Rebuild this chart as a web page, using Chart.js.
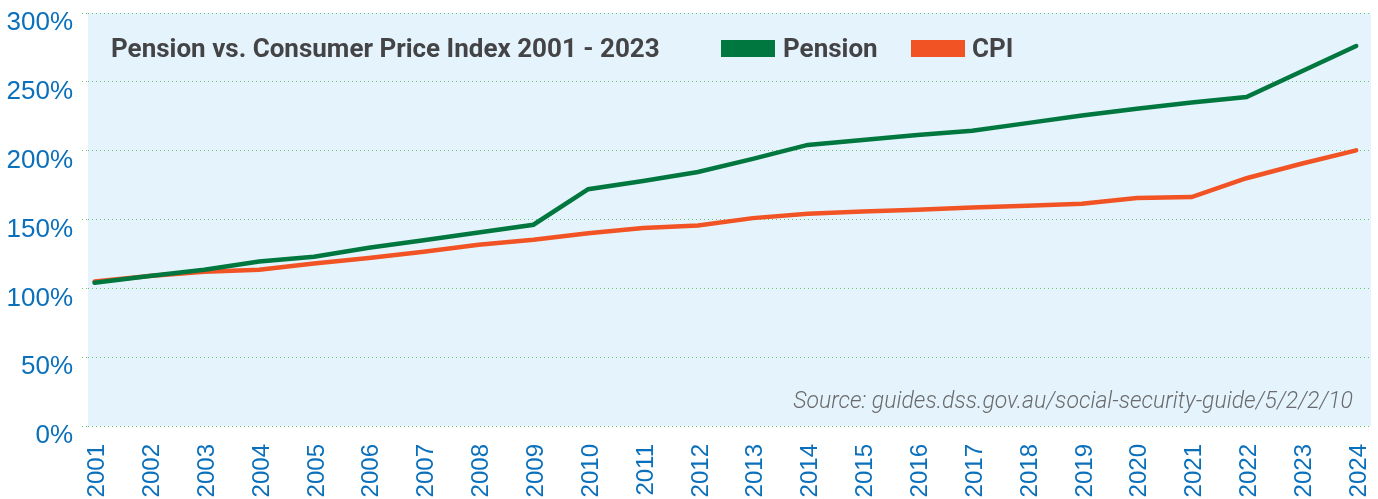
<!DOCTYPE html>
<html>
<head>
<meta charset="utf-8">
<script src="https://cdn.jsdelivr.net/npm/chart.js@4.4.0/dist/chart.umd.min.js"></script>
<style>
  html, body { margin: 0; padding: 0; background: #fff; }
  #wrap { width: 1378px; height: 499px; }
</style>
</head>
<body>
<div id="wrap"><canvas id="pensionChart" width="1378" height="499"></canvas></div>
<script>
// years on the x axis
var years = [2001, 2002, 2003, 2004, 2005, 2006, 2007, 2008, 2009, 2010, 2011, 2012,
             2013, 2014, 2015, 2016, 2017, 2018, 2019, 2020, 2021, 2022, 2023, 2024];

// index values in %
var pension = [104, 109, 113.5, 119.5, 123, 129.5, 135, 140.5, 146.2, 172, 178, 184.5,
               194, 204.2, 207.8, 211.3, 214.5, 220, 225.5, 230.5, 235, 239, 257.5, 276];
var cpi = [105, 109, 112, 113.5, 118, 122, 126.5, 131.6, 135.3, 140, 143.8, 145.7,
           151, 154.2, 155.9, 157.1, 158.7, 160, 161.4, 165.6, 166.3, 180, 190.5, 200.2];

var yTicks = [0, 50, 100, 150, 200, 250, 300];

var titleText = 'Pension vs. Consumer Price Index 2001 - 2023';
var sourceText = 'Source: guides.dss.gov.au/social-security-guide/5/2/2/10';

var GREEN = '#00773e';
var ORANGE = '#f15324';
var BLUE = '#0b70bb';

function toPoints(vals) {
  return years.map(function (y, i) { return { x: y, y: vals[i] }; });
}

// background, title, legend and source note
var overlay = {
  id: 'overlay',
  beforeDraw: function (chart) {
    var a = chart.chartArea, ctx = chart.ctx;
    ctx.save();
    ctx.fillStyle = '#e5f4fc';
    ctx.fillRect(a.left, a.top, a.right - a.left, a.bottom - a.top);
    ctx.restore();
  },
  afterDraw: function (chart) {
    var ctx = chart.ctx;
    ctx.save();
    ctx.textBaseline = 'alphabetic';
    ctx.fillStyle = '#444447';
    ctx.font = 'bold 26px Roboto, sans-serif';
    ctx.fillText(titleText, 111, 57);

    ctx.fillStyle = GREEN;
    ctx.fillRect(721, 40, 54, 17);
    ctx.fillStyle = '#444447';
    ctx.fillText('Pension', 783, 57);

    ctx.fillStyle = ORANGE;
    ctx.fillRect(911, 40, 54, 17);
    ctx.fillStyle = '#444447';
    ctx.fillText('CPI', 972, 57);

    ctx.font = 'italic 300 23px Roboto, "Liberation Sans", sans-serif';
    ctx.fillStyle = '#6a6b6e';
    ctx.textAlign = 'right';
    ctx.fillText(sourceText, 1353, 408);
    ctx.restore();
  }
};

var ctx = document.getElementById('pensionChart');
var chart = new Chart(ctx, {
  type: 'line',
  data: {
    datasets: [
      { label: 'Pension', data: toPoints(pension), borderColor: GREEN, borderWidth: 4.5,
        pointRadius: 0, tension: 0, borderCapStyle: 'round', borderJoinStyle: 'miter' },
      { label: 'CPI', data: toPoints(cpi), borderColor: ORANGE, borderWidth: 4.5,
        pointRadius: 0, tension: 0, borderCapStyle: 'round', borderJoinStyle: 'miter' }
    ]
  },
  options: {
    responsive: false,
    animation: false,
    devicePixelRatio: 1,
    layout: { padding: { top: 13, right: 7, left: 0, bottom: 0 } },
    plugins: {
      legend: { display: false },
      tooltip: { enabled: false }
    },
    scales: {
      x: {
        type: 'linear',
        min: 2001 - 0.12,
        max: 2024 + 0.27,
        afterBuildTicks: function (scale) {
          scale.ticks = years.map(function (y) { return { value: y }; });
        },
        afterFit: function (scale) {
          scale.height = 73;
          scale.paddingLeft = 0;
          scale.paddingRight = 0;
        },
        grid: { display: false },
        border: { display: false },
        ticks: {
          autoSkip: false,
          maxRotation: 90,
          minRotation: 90,
          padding: 10,
          labelOffset: 3,
          color: BLUE,
          font: { family: '"Liberation Sans", Arial, sans-serif', size: 24 },
          callback: function (v) { return String(v); }
        }
      },
      y: {
        min: 0,
        max: 300,
        afterBuildTicks: function (scale) {
          scale.ticks = yTicks.map(function (v) { return { value: v }; });
        },
        afterFit: function (scale) {
          scale.width = 88;
          scale.paddingTop = 0;
          scale.paddingBottom = 0;
        },
        border: { display: false },
        grid: {
          color: '#69c46e',
          lineWidth: 1,
          tickLength: 6,
          tickColor: '#69c46e',
          tickBorderDash: [1, 3]
        },
        ticks: {
          padding: 9,
          labelOffset: 10,
          color: BLUE,
          font: { family: '"Liberation Sans", Arial, sans-serif', size: 26 },
          callback: function (v) { return v + '%'; }
        }
      }
    }
  },
  plugins: [overlay]
});
// dotted grid lines
chart.options.scales.y.border.dash = [1, 3];
chart.options.scales.y.grid.borderDash = [1, 3];
chart.update();
</script>
</body>
</html>
